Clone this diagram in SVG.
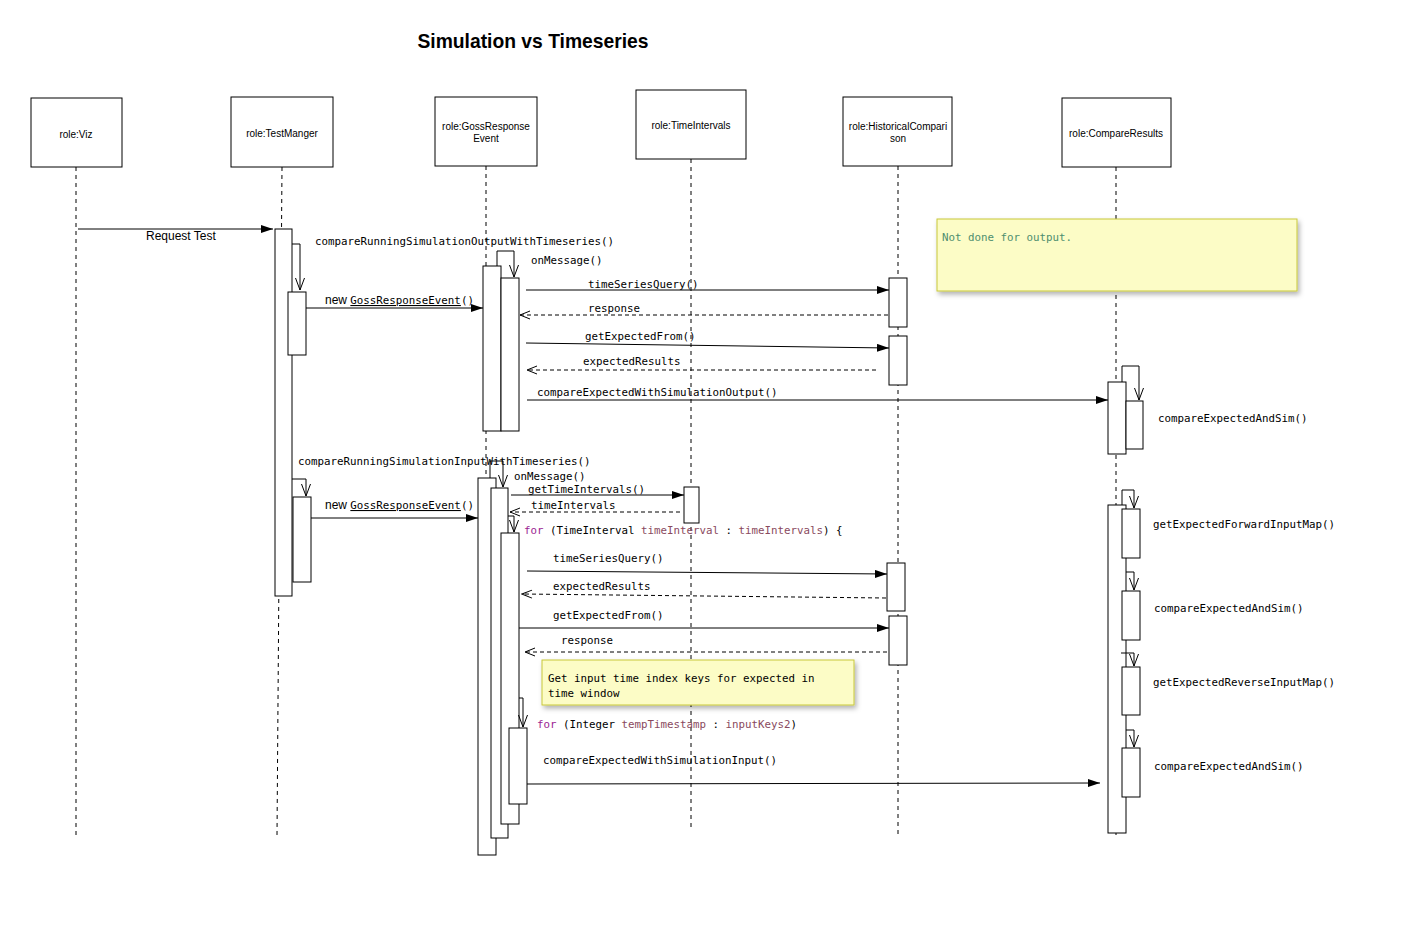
<svg xmlns="http://www.w3.org/2000/svg" width="1416" height="927" viewBox="0 0 1416 927">
<style>
.hdr{fill:#fff;stroke:#000;stroke-width:1}
.htxt{font-family:"Liberation Sans",Arial,sans-serif;font-size:10px;fill:#000;text-anchor:middle}
.life{stroke:#000;stroke-width:1;stroke-dasharray:4,4;fill:none}
.act{fill:#fff;stroke:#000;stroke-width:1}
.msg{stroke:#000;stroke-width:1;fill:none}
.ret{stroke:#000;stroke-width:1;fill:none;stroke-dasharray:4,3}
.lbl{font-family:"DejaVu Sans Mono","Liberation Mono",monospace;font-size:10.8px;fill:#000}
.sans{font-family:"Liberation Sans",Arial,sans-serif;font-size:12px;fill:#000}
.kw{fill:#9b2393}
.var{fill:#8a4a5e}
.note{fill:#fcfcc6;stroke:#c8c83a;stroke-width:1}
</style>
<defs>
<marker id="filled" viewBox="0 0 12 8" refX="12" refY="4" markerWidth="12" markerHeight="8" markerUnits="userSpaceOnUse" orient="auto">
<path d="M0,0 L12,4 L0,8 z" fill="#000"/>
</marker>
<marker id="open" viewBox="-1 -1 12 10" refX="10" refY="4" markerWidth="12" markerHeight="10" markerUnits="userSpaceOnUse" orient="auto">
<path d="M0,0 L10,4 L0,8" fill="none" stroke="#000" stroke-width="1"/>
</marker>
<marker id="self" viewBox="-1 -1 14 11" refX="12" refY="4.5" markerWidth="14" markerHeight="11" markerUnits="userSpaceOnUse" orient="auto">
<path d="M0,0 L12,4.5 L0,9" fill="none" stroke="#000" stroke-width="1"/>
</marker>
<filter id="shadow" x="-10%" y="-20%" width="125%" height="150%">
<feDropShadow dx="2" dy="3" stdDeviation="2.5" flood-color="#000" flood-opacity="0.3"/>
</filter>
</defs>
<rect width="1416" height="927" fill="#fff"/>
<text x="533" y="48" text-anchor="middle" font-family="Liberation Sans,Arial,sans-serif" font-size="19.3" font-weight="bold">Simulation vs Timeseries</text>

<g id="viz">
<rect class="hdr" x="31" y="98" width="91" height="69"/>
<text class="htxt" x="76" y="138">role:Viz</text>
<line class="life" x1="76" y1="167" x2="76" y2="836"/>
</g>

<g id="testmanger">
<rect class="hdr" x="231" y="97" width="102" height="70"/>
<text class="htxt" x="282" y="137">role:TestManger</text>
<line class="life" x1="282" y1="167" x2="277" y2="836"/>
<rect class="act" x="275" y="229" width="17" height="367"/>
<rect class="act" x="288" y="292" width="18" height="63"/>
<rect class="act" x="293" y="497" width="18" height="85"/>
</g>

<g id="gossresponseevent">
<rect class="hdr" x="435" y="97" width="102" height="69"/>
<text class="htxt" x="486" y="130">role:GossResponse</text>
<text class="htxt" x="486" y="142">Event</text>
<line class="life" x1="486" y1="166" x2="486" y2="836"/>
<rect class="act" x="483" y="266" width="18" height="165"/>
<rect class="act" x="501" y="278" width="18" height="153"/>
<rect class="act" x="478" y="478" width="18" height="377"/>
<rect class="act" x="491" y="488" width="17" height="350"/>
<rect class="act" x="501" y="533" width="18" height="291"/>
<rect class="act" x="509" y="728" width="18" height="76"/>
</g>

<g id="timeintervals">
<rect class="hdr" x="636" y="90" width="110" height="69"/>
<text class="htxt" x="691" y="129">role:TimeIntervals</text>
<line class="life" x1="691" y1="159" x2="691" y2="829"/>
<rect class="act" x="684" y="487" width="15" height="36"/>
</g>

<g id="historicalcomparison">
<rect class="hdr" x="843" y="97" width="109" height="69"/>
<text class="htxt" x="898" y="130">role:HistoricalCompari</text>
<text class="htxt" x="898" y="142">son</text>
<line class="life" x1="898" y1="166" x2="898" y2="836"/>
<rect class="act" x="889" y="278" width="18" height="49"/>
<rect class="act" x="889" y="336" width="18" height="49"/>
<rect class="act" x="887" y="563" width="18" height="48"/>
<rect class="act" x="889" y="616" width="18" height="49"/>
</g>

<g id="compareresults">
<rect class="hdr" x="1062" y="98" width="109" height="69"/>
<text class="htxt" x="1116" y="137">role:CompareResults</text>
<line class="life" x1="1116" y1="167" x2="1116" y2="836"/>
<rect class="act" x="1108" y="382" width="18" height="72"/>
<rect class="act" x="1126" y="401" width="17" height="48"/>
<rect class="act" x="1108" y="505" width="18" height="328"/>
<rect class="act" x="1122" y="509" width="18" height="49"/>
<rect class="act" x="1122" y="591" width="18" height="49"/>
<rect class="act" x="1122" y="667" width="18" height="48"/>
<rect class="act" x="1122" y="748" width="18" height="49"/>
</g>

<g id="connectors">
<line class="msg" x1="78" y1="229" x2="273" y2="229" marker-end="url(#filled)"/>
<polyline class="msg" points="292,244 300,244 300,290" marker-end="url(#self)"/>
<line class="msg" x1="306" y1="308" x2="483" y2="308" marker-end="url(#filled)"/>
<polyline class="msg" points="497,266 497,251 514,251 514,277" marker-end="url(#self)"/>
<line class="msg" x1="526" y1="290" x2="889" y2="290" marker-end="url(#filled)"/>
<line class="ret" x1="888" y1="315" x2="520" y2="315" marker-end="url(#open)"/>
<line class="msg" x1="526" y1="343" x2="889" y2="348" marker-end="url(#filled)"/>
<line class="ret" x1="876" y1="370" x2="527" y2="370" marker-end="url(#open)"/>
<line class="msg" x1="527" y1="400" x2="1108" y2="400" marker-end="url(#filled)"/>
<polyline class="msg" points="1122,382 1122,366 1139,366 1139,400" marker-end="url(#self)"/>

<polyline class="msg" points="292,479 306,479 306,496" marker-end="url(#self)"/>
<line class="msg" x1="311" y1="518" x2="478" y2="518" marker-end="url(#filled)"/>
<polyline class="msg" points="490,478 490,461 503,461 503,487" marker-end="url(#self)"/>
<line class="msg" x1="511" y1="495" x2="684" y2="495" marker-end="url(#filled)"/>
<line class="ret" x1="680" y1="512" x2="510" y2="512" marker-end="url(#open)"/>
<polyline class="msg" points="508,516 514,516 514,532" marker-end="url(#self)"/>
<line class="msg" x1="527" y1="571" x2="887" y2="574" marker-end="url(#filled)"/>
<line class="ret" x1="886" y1="598" x2="522" y2="594" marker-end="url(#open)"/>
<line class="msg" x1="519" y1="628" x2="889" y2="628" marker-end="url(#filled)"/>
<line class="ret" x1="887" y1="652" x2="525" y2="652" marker-end="url(#open)"/>
<polyline class="msg" points="519,698 523,698 523,727" marker-end="url(#self)"/>
<line class="msg" x1="527" y1="784" x2="1100" y2="783" marker-end="url(#filled)"/>
<polyline class="msg" points="1122,505 1122,490 1134,490 1134,508" marker-end="url(#self)"/>
<polyline class="msg" points="1126,572 1134,572 1134,590" marker-end="url(#self)"/>
<polyline class="msg" points="1121,653 1134,653 1134,666" marker-end="url(#self)"/>
<polyline class="msg" points="1126,730 1134,730 1134,747" marker-end="url(#self)"/>
</g>

<g id="labels">
<text class="sans" x="146" y="240">Request Test</text>
<text class="lbl" x="315" y="245">compareRunningSimulationOutputWithTimeseries()</text>
<text class="lbl" x="531" y="264">onMessage()</text>
<text x="325" y="304"><tspan class="sans">new </tspan><tspan class="lbl" text-decoration="underline">GossResponseEvent</tspan><tspan class="lbl">()</tspan></text>
<text class="lbl" x="588" y="288">timeSeriesQuery()</text>
<text class="lbl" x="588" y="312">response</text>
<text class="lbl" x="585" y="340">getExpectedFrom()</text>
<text class="lbl" x="583" y="365">expectedResults</text>
<text class="lbl" x="537" y="396">compareExpectedWithSimulationOutput()</text>
<text class="lbl" x="1158" y="422">compareExpectedAndSim()</text>

<text class="lbl" x="298" y="465">compareRunningSimulationInputWithTimeseries()</text>
<text class="lbl" x="514" y="480">onMessage()</text>
<text class="lbl" x="528" y="493">getTimeIntervals()</text>
<text class="lbl" x="531" y="509">timeIntervals</text>
<text x="325" y="509"><tspan class="sans">new </tspan><tspan class="lbl" text-decoration="underline">GossResponseEvent</tspan><tspan class="lbl">()</tspan></text>
<text class="lbl" x="524" y="534"><tspan class="kw">for</tspan> (TimeInterval <tspan class="var">timeInterval</tspan> : <tspan class="var">timeIntervals</tspan>) {</text>
<text class="lbl" x="553" y="562">timeSeriesQuery()</text>
<text class="lbl" x="553" y="590">expectedResults</text>
<text class="lbl" x="553" y="619">getExpectedFrom()</text>
<text class="lbl" x="561" y="644">response</text>
<text class="lbl" x="537" y="728"><tspan class="kw">for</tspan> (Integer <tspan class="var">tempTimestamp</tspan> : <tspan class="var">inputKeys2</tspan>)</text>
<text class="lbl" x="543" y="764">compareExpectedWithSimulationInput()</text>
<text class="lbl" x="1153" y="528">getExpectedForwardInputMap()</text>
<text class="lbl" x="1154" y="612">compareExpectedAndSim()</text>
<text class="lbl" x="1153" y="686">getExpectedReverseInputMap()</text>
<text class="lbl" x="1154" y="770">compareExpectedAndSim()</text>
</g>

<g id="note-output">
<rect class="note" x="937" y="219" width="360" height="72" filter="url(#shadow)"/>
<text class="lbl" x="942" y="241" style="fill:#4f8f6f">Not done for output.</text>
</g>

<g id="note-input">
<rect class="note" x="542" y="660" width="312" height="45" filter="url(#shadow)"/>
<text class="lbl" x="548" y="682">Get input time index keys for expected in</text>
<text class="lbl" x="548" y="697">time window</text>
</g>
</svg>
